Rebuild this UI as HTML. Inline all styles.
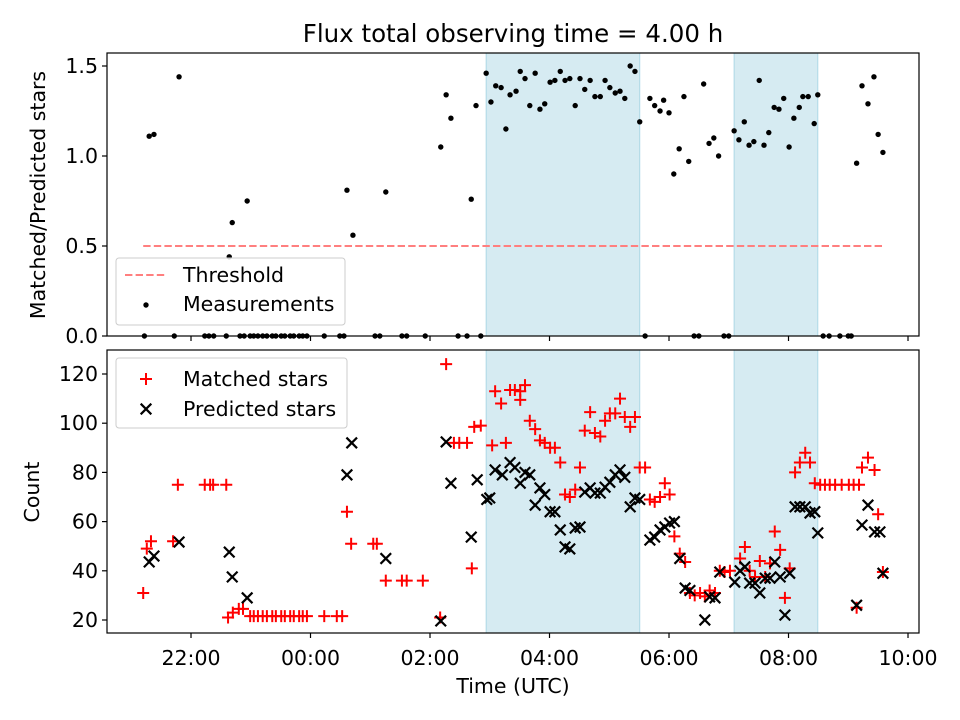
<!DOCTYPE html>
<html><head><meta charset="utf-8"><style>
html,body{margin:0;padding:0;background:#fff;}
svg{display:block;font-family:"DejaVu Sans","Liberation Sans",sans-serif;}
</style></head><body>
<svg id="chart" width="960" height="720" viewBox="0 0 960 720" xmlns="http://www.w3.org/2000/svg"></svg>
<script>
const xTickVals=[22,24,26,28,30,32,34];
const xTickLabels=["22:00","00:00","02:00","04:00","06:00","08:00","10:00"];
const ratioTicks=[0,0.5,1.0,1.5];
const ratioTickLabels=["0.0","0.5","1.0","1.5"];
const countTicks=[20,40,60,80,100,120];
const shadeStart=[26.94,31.09];
const shadeEnd=[29.51,32.49];
const thresholdValue=0.5;
const thresholdRange=[21.20,33.58];
const measTimes=[21.30,21.38,21.80,22.64,22.69,22.94,24.61,24.71,25.26,26.18,26.27,26.35,26.69,26.77,26.94,27.02,27.10,27.19,27.27,27.34,27.44,27.51,27.59,27.67,27.76,27.84,27.92,28.01,28.09,28.18,28.26,28.34,28.43,28.51,28.59,28.68,28.76,28.85,28.93,29.01,29.10,29.18,29.26,29.35,29.43,29.51,29.68,29.76,29.85,29.91,30.00,30.08,30.17,30.25,30.33,30.58,30.67,30.75,30.83,31.09,31.17,31.26,31.34,31.42,31.51,31.59,31.67,31.76,31.84,31.92,32.01,32.09,32.18,32.24,32.33,32.43,32.49,33.14,33.23,33.33,33.43,33.50,33.58,
21.22,21.72,22.23,22.30,22.38,22.59,22.82,22.89,22.99,23.05,23.12,23.20,23.27,23.36,23.42,23.51,23.57,23.66,23.72,23.81,23.87,23.94,24.23,24.49,24.56,25.08,25.16,25.53,25.61,25.92,26.47,26.62,26.85,29.60,30.42,30.50,30.92,31.00,32.58,32.68,32.86,33.00,33.05];
const measValues=[1.11,1.12,1.44,0.44,0.63,0.75,0.81,0.56,0.80,1.05,1.34,1.21,0.76,1.28,1.46,1.30,1.39,1.38,1.15,1.34,1.36,1.47,1.43,1.28,1.46,1.26,1.29,1.41,1.42,1.47,1.42,1.43,1.28,1.43,1.37,1.42,1.33,1.33,1.42,1.38,1.35,1.36,1.32,1.50,1.47,1.19,1.32,1.28,1.25,1.31,1.24,0.90,1.04,1.33,0.97,1.40,1.07,1.10,1.00,1.14,1.09,1.19,1.06,1.08,1.42,1.06,1.13,1.27,1.26,1.32,1.05,1.21,1.27,1.33,1.33,1.18,1.34,0.96,1.39,1.29,1.44,1.12,1.02,
0,0,0,0,0,0,0,0,0,0,0,0,0,0,0,0,0,0,0,0,0,0,0,0,0,0,0,0,0,0,0,0,0,0,0,0,0,0,0,0,0,0,0];
const matchedTimes=[21.20,21.26,21.33,21.70,21.78,22.23,22.32,22.37,22.59,22.62,22.70,22.80,22.87,22.99,23.05,23.12,23.20,23.27,23.36,23.42,23.51,23.57,23.66,23.72,23.81,23.87,23.94,24.23,24.44,24.53,24.61,24.68,25.05,25.11,25.26,25.53,25.61,25.88,26.17,26.27,26.40,26.49,26.62,26.70,26.74,26.85,27.04,27.09,27.19,27.27,27.34,27.42,27.51,27.51,27.59,27.67,27.76,27.84,27.92,28.01,28.09,28.18,28.26,28.34,28.43,28.51,28.59,28.68,28.76,28.85,28.93,29.01,29.10,29.18,29.26,29.35,29.43,29.51,29.60,29.68,29.76,29.85,29.93,30.01,30.09,30.18,30.27,30.35,30.43,30.52,30.60,30.68,30.77,30.85,30.93,31.02,31.19,31.27,31.35,31.44,31.52,31.61,31.69,31.77,31.86,31.94,32.02,32.11,32.19,32.28,32.36,32.44,32.53,32.61,32.69,32.78,32.89,33.01,33.09,33.14,33.18,33.23,33.33,33.44,33.50,33.58];
const matchedValues=[31,49,52,52,75,75,75,75,75,21,23,24.5,24.5,21.6,21.6,21.6,21.6,21.6,21.6,21.6,21.6,21.6,21.6,21.6,21.6,21.6,21.6,21.6,21.6,21.6,64,51,51,51,36,36,36,36,21,124,92,92,92,41,98.5,99,91,113,108,92,113.5,113.5,113,109.5,115.5,101,97.6,93,92,90,90,84,71,70,73,82,97,104.5,96,94.6,101,104,104,110,102.5,98.5,102.5,82,82,69,68,70,75.6,71,54,47,43.6,31,30,31,29.6,32,31,40,39.5,40,45,49.7,40,37.5,44,37.5,43,56,48.5,29,41,80,84,88,84,75.6,75,75,75,75,75,75,75,25,75,82,86,81,63,39.5];
const predTimes=[21.30,21.38,21.80,22.64,22.69,22.94,24.61,24.69,25.26,26.18,26.27,26.35,26.69,26.79,26.95,27.00,27.09,27.21,27.34,27.42,27.51,27.59,27.67,27.76,27.84,27.92,28.01,28.09,28.18,28.26,28.34,28.43,28.51,28.59,28.68,28.76,28.85,28.93,29.01,29.10,29.18,29.26,29.35,29.43,29.51,29.68,29.76,29.85,29.93,30.01,30.09,30.18,30.27,30.35,30.60,30.68,30.77,30.85,31.10,31.19,31.27,31.35,31.44,31.52,31.61,31.69,31.77,31.86,31.94,32.02,32.11,32.19,32.28,32.36,32.44,32.49,33.14,33.23,33.33,33.44,33.53,33.58];
const predValues=[43.6,46,51.7,47.6,37.5,29,79,92,45,19.6,92.4,75.6,53.7,77,69,69.6,81,79,84,82,75.6,80,79,66.7,73.7,71,64,64,56.6,49.7,48.9,57.4,57.8,72,73.7,71.6,71.6,74,76,79,81,78,66,69.6,69,52.5,53.7,56.6,57.8,59.4,60,45,33,32,20,29.4,29,39.5,35.4,40,41.6,35,35,31,37,37,43.6,37.5,22,39,66,66,66,63.5,64,55.4,26,58.6,66.7,55.8,55.8,39];

const NS="http://www.w3.org/2000/svg";
const svg=document.getElementById('chart');
const L=107,R=919,T1=53,B1=336,T2=350,B2=633;
const X0=20.594,X1=34.184;
const FS=20.5;
function sx(h){return L+(h-X0)/(X1-X0)*(R-L);}
function syR(v){return 336-v*180;}
function syC(v){return 620-(v-20)*2.46;}
function mk(tag,attrs,parent){const e=document.createElementNS(NS,tag);for(const k in attrs)e.setAttribute(k,attrs[k]);(parent||svg).appendChild(e);return e;}
function txt(s,attrs,parent){const e=mk('text',attrs,parent);e.textContent=s;return e;}

const title=txt("Flux total observing time = 4.00 h",{x:513,y:42,'text-anchor':'middle','font-size':24.5,fill:'#000'});



function panel(top,bot,name){
  const g=mk('g',{});
  
  
  for(let i=0;i<shadeStart.length;i++){
    const r=mk('rect',{x:sx(shadeStart[i]),y:top,width:sx(shadeEnd[i])-sx(shadeStart[i]),height:bot-top,fill:'#add8e6','fill-opacity':0.5,stroke:'#add8e6','stroke-width':1},g);
    
    
  }
  return g;
}
function frame(top,bot,g,labels){
  mk('rect',{x:L,y:top,width:R-L,height:bot-top,fill:'none',stroke:'#000','stroke-width':1.2},g);
  xTickVals.forEach((v,i)=>{
    const x=sx(v);
    mk('line',{x1:x,x2:x,y1:bot,y2:bot+5,stroke:'#000','stroke-width':1.2},g);
    if(labels){const t=txt(xTickLabels[i],{x:x,y:bot+32,'text-anchor':'middle','font-size':FS},g);
      
      }
  });
}

const g1=panel(T1,B1,'ratio-panel');
const th=mk('line',{x1:sx(thresholdRange[0]),x2:sx(thresholdRange[1]),y1:syR(thresholdValue),y2:syR(thresholdValue),stroke:'#ff7f7f','stroke-width':2,'stroke-dasharray':'7.4,3.2'},g1);


measTimes.forEach((t,i)=>{
  const c=mk('circle',{cx:sx(t),cy:syR(measValues[i]),r:2.7,fill:'#000'},g1);
  
  
});
frame(T1,B1,g1,false);
ratioTicks.forEach((v,i)=>{const y=syR(v);mk('line',{x1:L-5,x2:L,y1:y,y2:y,stroke:'#000','stroke-width':1.2},g1);
  const t=txt(ratioTickLabels[i],{x:L-9,y:y+7,'text-anchor':'end','font-size':FS},g1);
  
  });
const yl1=txt("Matched/Predicted stars",{x:0,y:0,'text-anchor':'middle','font-size':FS,transform:'translate(45,195) rotate(-90)'});


const lg1=mk('g',{});


mk('rect',{x:116,y:258,width:229,height:67,rx:3,fill:'#fff','fill-opacity':0.8,stroke:'#ccc'},lg1);
mk('line',{x1:125,x2:167,y1:275,y2:275,stroke:'#ff7f7f','stroke-width':2,'stroke-dasharray':'7.4,3.2'},lg1);
txt("Threshold",{x:183,y:282,'font-size':FS},lg1);
mk('circle',{cx:146,cy:305,r:2.7,fill:'#000'},lg1);
txt("Measurements",{x:183,y:311,'font-size':FS},lg1);

const g2=panel(T2,B2,'count-panel');
function plus(x,y,g){return mk('path',{d:`M${x-6},${y}H${x+6}M${x},${y-6}V${y+6}`,stroke:'#ff0000','stroke-width':2,fill:'none'},g);}
function cross(x,y,g){return mk('path',{d:`M${x-5.3},${y-5.3}L${x+5.3},${y+5.3}M${x-5.3},${y+5.3}L${x+5.3},${y-5.3}`,stroke:'#000','stroke-width':2.2,fill:'none'},g);}
matchedTimes.forEach((t,i)=>{const p=plus(sx(t),syC(matchedValues[i]),g2);
  
  });
predTimes.forEach((t,i)=>{const p=cross(sx(t),syC(predValues[i]),g2);
  
  });
frame(T2,B2,g2,true);
countTicks.forEach(v=>{const y=syC(v);mk('line',{x1:L-5,x2:L,y1:y,y2:y,stroke:'#000','stroke-width':1.2},g2);
  const t=txt(String(v),{x:L-9,y:y+7,'text-anchor':'end','font-size':FS},g2);
  
  });
const yl2=txt("Count",{x:0,y:0,'text-anchor':'middle','font-size':FS,transform:'translate(39,492) rotate(-90)'});


const xl=txt("Time (UTC)",{x:513,y:693,'text-anchor':'middle','font-size':FS});


const lg2=mk('g',{});


mk('rect',{x:116,y:358,width:231,height:70,rx:3,fill:'#fff','fill-opacity':0.8,stroke:'#ccc'},lg2);
plus(146,379,lg2);
txt("Matched stars",{x:183,y:386,'font-size':FS},lg2);
cross(146,409,lg2);
txt("Predicted stars",{x:183,y:416,'font-size':FS},lg2);
</script>
</body></html>
